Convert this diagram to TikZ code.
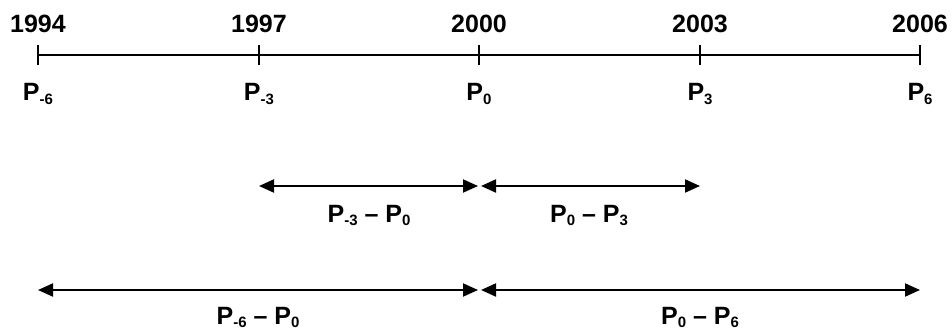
\documentclass[tikz,border=0pt]{standalone}
\usepackage{fontspec}
\setmainfont{Liberation Sans}
\usetikzlibrary{arrows.meta}
\newcommand\psub[1]{\raisebox{-0.14em}{\fontsize{15}{15}\selectfont #1}}
\newcommand\pname[1]{P\psub{#1}}
\begin{document}
\begin{tikzpicture}[x=1pt,y=-1pt,
  lbl/.style={font=\fontsize{25}{25}\selectfont\bfseries, anchor=base, inner sep=0pt},
  axis/.style={line width=1.5pt},
  tick/.style={line width=1.5pt},
  span/.style={line width=2pt, {Triangle[length=15pt,width=13pt]}-{Triangle[length=15pt,width=13pt]}}]
  \useasboundingbox (0,0) rectangle (952,331);
  % tick positions on the time axis
  \foreach \n/\x in {a/38, b/259, c/479, d/700, e/920} {
    \coordinate (\n) at (\x,55);
    \coordinate (\n top) at (\x,45);
    \coordinate (\n bot) at (\x,65);
    \draw[tick] (\n top) -- (\n bot);
  }
  \draw[axis] (a) -- (e);
  % years above the axis
  \node[lbl] (ya) at (38,33) {1994};
  \node[lbl] (yb) at (259,33) {1997};
  \node[lbl] (yc) at (479,33) {2000};
  \node[lbl] (yd) at (700,33) {2003};
  \node[lbl] (ye) at (920,33) {2006};
  % period names below the axis
  \node[lbl] (pa) at (38,101) {\pname{-6}};
  \node[lbl] (pb) at (259,101) {\pname{-3}};
  \node[lbl] (pc) at (479,101) {\pname{0}};
  \node[lbl] (pd) at (700,101) {\pname{3}};
  \node[lbl] (pe) at (920,101) {\pname{6}};
  % three-year spans
  \coordinate (s1l) at (259,186);
  \coordinate (s1r) at (478,186);
  \coordinate (s2l) at (481,186);
  \coordinate (s2r) at (700,186);
  \draw[span] (s1l) -- (s1r);
  \draw[span] (s2l) -- (s2r);
  \node[lbl] (l1) at (369,222) {\pname{-3} -- \pname{0}};
  \node[lbl] (l2) at (589,222) {\pname{0} -- \pname{3}};
  % six-year spans
  \coordinate (t1l) at (38,290);
  \coordinate (t1r) at (478,290);
  \coordinate (t2l) at (481,290);
  \coordinate (t2r) at (920,290);
  \draw[span] (t1l) -- (t1r);
  \draw[span] (t2l) -- (t2r);
  \node[lbl] (l3) at (258,324) {\pname{-6} -- \pname{0}};
  \node[lbl] (l4) at (700,324) {\pname{0} -- \pname{6}};
\end{tikzpicture}
\end{document}
